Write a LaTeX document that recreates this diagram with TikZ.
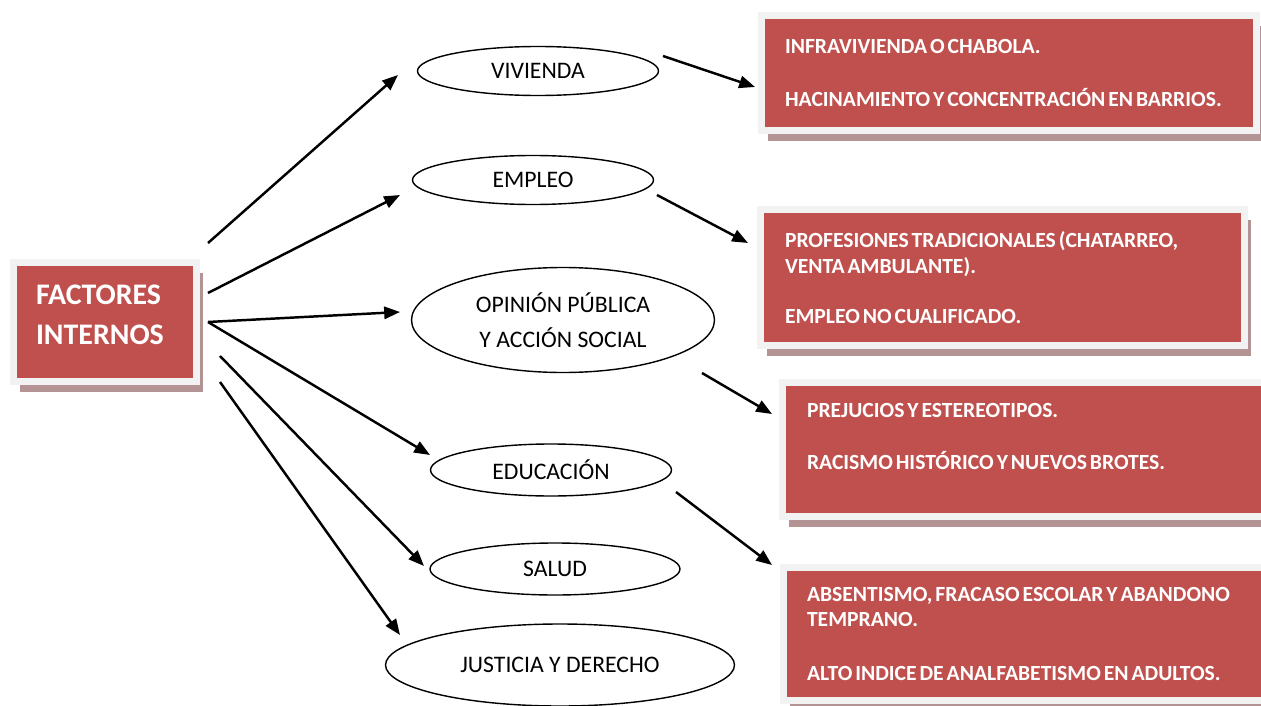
\documentclass[tikz,border=0pt]{standalone}
\usepackage{fontspec}
\setmainfont{Carlito}[BoldFeatures={WordSpace=0.6}]
\usetikzlibrary{shapes.geometric, shadows, arrows.meta}
\definecolor{boxred}{HTML}{C0504D}
\definecolor{boxframe}{HTML}{F2F2F2}
\definecolor{boxshadow}{HTML}{B39393}
\newcommand{\pxu}{0.02cm}

\begin{document}
\begin{tikzpicture}[x=0.02cm, y=-0.02cm,
	area/.style = {draw, ellipse, line width=0.8pt, inner sep=0pt, align=center, font=\fontsize{13.5}{20}\selectfont},
	redbox/.style = {fill=boxred, draw=boxframe, line width=4pt, text=white, align=flush left, inner sep=0pt,
		font=\bfseries\fontsize{12.3}{14.7}\selectfont,
		drop shadow={shadow xshift=3.7pt, shadow yshift=-6pt, fill=boxshadow, opacity=1}},
	flecha/.style = {-{Triangle[length=9pt, width=7pt]}, line width=1.4pt}]
	\useasboundingbox (0,0) rectangle (1261,706);
	
	\node [redbox, minimum width=183*\pxu, minimum height=119*\pxu, text width=138*\pxu, font=\bfseries\fontsize{17}{23}\selectfont] (internos) at (105,322) {FACTORES\\INTERNOS\\[-15pt]\mbox{}};
	
	\node [area, minimum width=241*\pxu, minimum height=49*\pxu] (vivienda) at (538,71) {VIVIENDA};
	\node [area, minimum width=241*\pxu, minimum height=49*\pxu] (empleo) at (533,180) {EMPLEO};
	\node [area, minimum width=303*\pxu, minimum height=105*\pxu] (opinion) at (563,320) {OPINIÓN PÚBLICA\\Y ACCIÓN SOCIAL};
	\node [area, minimum width=241*\pxu, minimum height=52*\pxu] (educacion) at (551,470) {EDUCACIÓN};
	\node [area, minimum width=250*\pxu, minimum height=52*\pxu] (salud) at (555,569) {SALUD};
	\node [area, minimum width=349*\pxu, minimum height=82*\pxu] (justicia) at (560,665) {JUSTICIA Y DERECHO};
	
	\node [redbox, minimum width=495*\pxu, minimum height=115*\pxu, text width=448*\pxu] (vivbox) at (1009,73)
		{INFRAVIVIENDA O CHABOLA.\\[15pt]\mbox{HACINAMIENTO Y CONCENTRACIÓN EN BARRIOS.}};
	\node [redbox, minimum width=484*\pxu, minimum height=136*\pxu, text width=435*\pxu] (empbox) at (1002.5,277.5)
		{\mbox{PROFESIONES TRADICIONALES (CHATARREO,}\\VENTA AMBULANTE).\\[13.7pt]EMPLEO NO CUALIFICADO.};
	\node [redbox, minimum width=511*\pxu, minimum height=134*\pxu, text width=462*\pxu] (opibox) at (1038,449.5)
		{PREJUCIOS Y ESTEREOTIPOS.\\[14.8pt]RACISMO HISTÓRICO Y NUEVOS BROTES.\\ \mbox{}};
	\node [redbox, minimum width=510*\pxu, minimum height=133*\pxu, text width=463*\pxu] (edubox) at (1038.5,634)
		{\mbox{ABSENTISMO, FRACASO ESCOLAR Y ABANDONO}\\TEMPRANO.\\[16pt]\mbox{ALTO INDICE DE ANALFABETISMO EN ADULTOS.}};
	
	% puntas de las flechas
	\coordinate (i1) at (208,243);
	\coordinate (i2) at (208,293);
	\coordinate (i3) at (208,322);
	\coordinate (i4) at (220,356);
	\coordinate (i5) at (220,382);
	\coordinate (v1) at (398,75);
	\coordinate (e1) at (400,195);
	\coordinate (o1) at (400,312);
	\coordinate (d1) at (430,455);
	\coordinate (s1) at (424,566);
	\coordinate (j1) at (400,635);
	
	\draw [flecha] (i1) -- (v1);
	\draw [flecha] (i2) -- (e1);
	\draw [flecha] (i3) -- (o1);
	\draw [flecha] (i3) -- (d1);
	\draw [flecha] (i4) -- (s1);
	\draw [flecha] (i5) -- (j1);
	
	\coordinate (v2) at (663,56);
	\coordinate (v3) at (755,87);
	\coordinate (e2) at (657,195);
	\coordinate (e3) at (748,243);
	\coordinate (o2) at (702,373);
	\coordinate (o3) at (772,414);
	\coordinate (d2) at (676,492);
	\coordinate (d3) at (772,565);
	
	\draw [flecha] (v2) -- (v3);
	\draw [flecha] (e2) -- (e3);
	\draw [flecha] (o2) -- (o3);
	\draw [flecha] (d2) -- (d3);
\end{tikzpicture}
\end{document}
